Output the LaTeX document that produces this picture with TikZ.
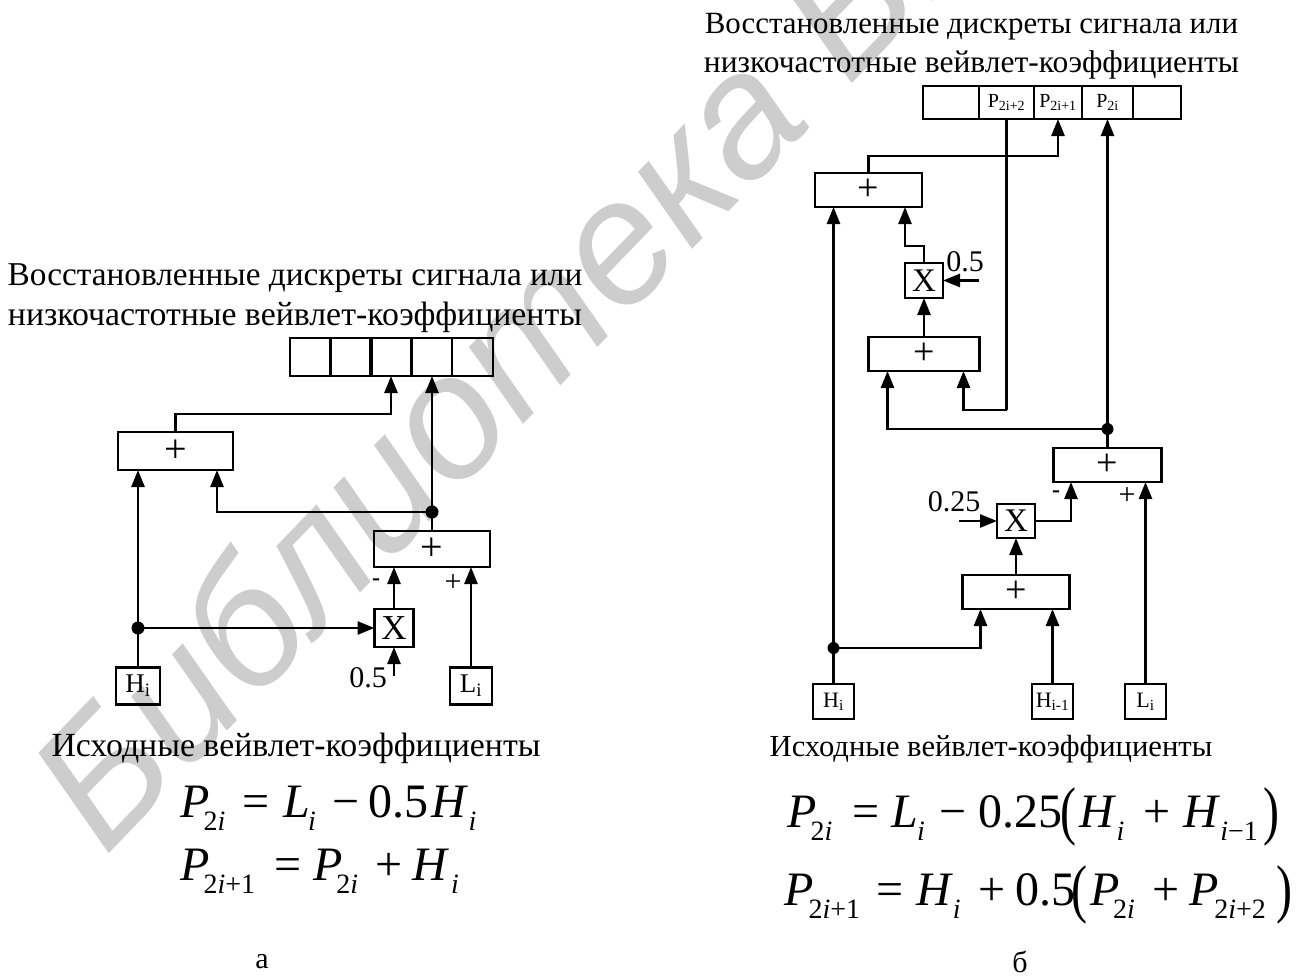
\documentclass[tikz,border=0pt]{standalone}
\usepackage{fontspec}
\setmainfont{Liberation Serif}
\newfontfamily\wmfont{Liberation Sans}
\usepackage{tikz}
\usetikzlibrary{calc,arrows.meta}
\usepackage{xcolor}
\definecolor{wmgray}{HTML}{CDCDCD}
\newcommand{\fsz}[1]{\fontsize{#1}{#1}\selectfont}
\newcommand{\esub}[2][0pt]{\kern#1\raisebox{-13pt}{\fsz{28}#2}}
\newcommand{\ii}{\textit{i}}
\newcommand{\bigparl}{\raisebox{-0.12em}{\scalebox{1}[1.35]{(}}}
\newcommand{\bigparr}{\raisebox{-0.12em}{\scalebox{1}[1.35]{)}}}
\tikzset{
  block/.style={draw,line width=2.6pt,inner sep=0pt,outer sep=0pt},
  wire/.style={line width=2.6pt},
  arrow/.style={wire,-{Triangle[length=17pt,width=13pt]}},
  junct/.style={circle,fill,inner sep=0pt,minimum size=13pt},
  formula/.style={font=\fsz{48},inner sep=0pt,anchor=base west},
  plusbox/.style={block,font=\fsz{40}},
  mulbox/.style={block,font=\fsz{35},minimum width=39pt,minimum height=38pt},
  inbox/.style={block,minimum height=37pt},
  cell/.style={block,font=\fsz{20},minimum height=33pt},
}
\begin{document}
\begin{tikzpicture}[x=1pt,y=-1pt]
  \useasboundingbox (0,0) rectangle (1302,978);
  \begin{scope}
    \clip (0,0) rectangle (1302,978);
    \node[rotate=46,anchor=base west,text=wmgray,font=\wmfont\itshape\fsz{175},inner sep=0pt] (wmark) at (105,858) {Библиотека БГУИР};
  \end{scope}

  % схема а
  \node[font=\fsz{33.3},inner sep=0pt] (titlela) at (295,278) {Восстановленные дискреты сигнала или};
  \node[font=\fsz{33.8},inner sep=0pt] (titlelb) at (295,317) {низкочастотные вейвлет-коэффициенты};
  \foreach \i/\x in {1/310.5,2/351,3/391,4/431.5,5/472.5}{
    \node[block,minimum width=41pt,minimum height=38pt] (regl\i) at (\x,357) {};
  }
  \node[plusbox,minimum width=115pt,minimum height=38pt] (addla) at (175.5,451) {+};
  \node[plusbox,minimum width=116pt,minimum height=36pt] (addlb) at (432,549) {+};
  \node[mulbox] (mull) at (394,628) {X};
  \node[inbox,font=\fsz{27},minimum width=44pt] (hl) at (138,686) {H\textsubscript{i}};
  \node[inbox,font=\fsz{27},minimum width=42pt] (ll) at (471,686) {L\textsubscript{i}};
  \node[junct] (dotla) at (432,512) {};
  \node[junct] (dotlb) at (138,628) {};
  \coordinate (cfl) at (394,676);
  \node[font=\fsz{30},inner sep=0pt] (cfltext) at (368,678) {0.5};
  \node[font=\bfseries\fsz{24},inner sep=0pt] (minl) at (376,582) {-};
  \node[font=\fsz{30},inner sep=0pt] (plul) at (453,583) {+};
  \draw[arrow] (addla.north) -- ++(0,-18) -| (regl3.south);
  \draw[arrow] (dotla.center) -- (dotla |- regl4.south);
  \draw[wire] (addlb.north) -- (dotla.center);
  \draw[arrow] (dotla.center) -| ([xshift=41.5pt]addla.south);
  \draw[wire] (hl.north) -- (dotlb.center);
  \draw[arrow] (dotlb.center) -- (dotlb |- addla.south);
  \draw[arrow] (dotlb.center) -- (mull.west);
  \draw[arrow] (mull.north) -- (mull.north |- addlb.south);
  \draw[arrow] (ll.north) -- (ll.north |- addlb.south);
  \draw[arrow] (cfl) -- (mull.south);
  \node[font=\fsz{33.8},inner sep=0pt] (capl) at (296,748) {Исходные вейвлет-коэффициенты};
  \node[formula] (eqla) at (180,817) {\textit{P}\esub[-6pt]{2\ii}\kern17pt=\kern14pt\textit{L}\esub[-2pt]{\ii}\kern17pt−\kern9pt0.5\kern3pt\textit{H}\esub{\ii}};
  \node[formula] (eqlb) at (180,880) {\textit{P}\esub[-6pt]{2\ii+1}\kern19pt=\kern12pt\textit{P}\esub[-6pt]{2\ii}\kern17pt+\kern10pt\textit{H}\esub[2pt]{\ii}};
  \node[font=\fsz{30},inner sep=0pt] (labla) at (262,962) {а};

  % схема б
  \node[font=\fsz{30.9},inner sep=0pt] (titlera) at (971.5,27) {Восстановленные дискреты сигнала или};
  \node[font=\fsz{31.5},inner sep=0pt] (titlerb) at (971.5,65) {низкочастотные вейвлет-коэффициенты};
  \foreach \n/\x/\w/\t in {a/951/56/{},b/1006.5/55/{P\textsubscript{2i+2}},c/1058/48/{P\textsubscript{2i+1}},d/1107.5/51/{P\textsubscript{2i}},e/1157/48/{}}{
    \node[cell,minimum width=\w pt] (reg\n) at (\x,102.5) {\t};
  }
  \node[plusbox,font=\fsz{38},minimum width=107pt,minimum height=34pt] (addra) at (868.5,190) {+};
  \node[mulbox,font=\fsz{33},minimum height=35pt,minimum width=38pt] (mulra) at (924,280.5) {X};
  \node[plusbox,font=\fsz{38},minimum width=111pt,minimum height=34pt] (addrb) at (924,354) {+};
  \node[plusbox,font=\fsz{38},minimum width=108pt,minimum height=34pt] (addrc) at (1107.5,465) {+};
  \node[mulbox,font=\fsz{33},minimum height=34pt,minimum width=38pt] (mulrb) at (1016,521) {X};
  \node[plusbox,font=\fsz{38},minimum width=107pt,minimum height=34pt] (addrd) at (1016,592) {+};
  \node[inbox,font=\fsz{22},minimum width=41pt,minimum height=35pt] (hr) at (833.5,701.5) {H\textsubscript{i}};
  \node[inbox,font=\fsz{22},minimum width=41pt,minimum height=35pt] (hrp) at (1052.5,701.5) {H\textsubscript{i-1}};
  \node[inbox,font=\fsz{22},minimum width=41pt,minimum height=35pt] (lr) at (1145.5,701.5) {L\textsubscript{i}};
  \node[junct,minimum size=12pt] (dotra) at (1107.5,429) {};
  \node[junct,minimum size=12pt] (dotrb) at (833.5,648) {};
  \coordinate (cfra) at (979,280.5);
  \coordinate (cfrb) at (959,521);
  \coordinate (bendr) at (1006.5,410);
  \node[font=\fsz{30},inner sep=0pt] (cfratext) at (965,262) {0.5};
  \node[font=\fsz{30},inner sep=0pt] (cfrbtext) at (954,502) {0.25};
  \node[font=\bfseries\fsz{24},inner sep=0pt] (minr) at (1056,494) {-};
  \node[font=\fsz{30},inner sep=0pt] (plur) at (1127,496) {+};
  \draw[arrow] (addra.north) -- ++(0,-17) -| (regc.south);
  \draw[wire] (regb.south) -- (bendr);
  \draw[arrow] (bendr) -| ([xshift=39.5pt]addrb.south);
  \draw[arrow] (dotra.center) -- (dotra |- regd.south);
  \draw[arrow] (dotra.center) -| ([xshift=-36.5pt]addrb.south);
  \draw[wire] (addrc.north) -- (dotra.center);
  \draw[arrow] (mulra.north) -- ++(0,-17) -| ([xshift=36.5pt]addra.south);
  \draw[arrow] (addrb.north) -- (mulra.south);
  \draw[arrow] (cfra) -- (mulra.east);
  \draw[arrow] (cfrb) -- (mulrb.west);
  \draw[arrow] (mulrb.east) -| ([xshift=-36.5pt]addrc.south);
  \draw[arrow] (lr.north) -- (lr.north |- addrc.south);
  \draw[arrow] (addrd.north) -- (mulrb.south);
  \draw[wire] (hr.north) -- (dotrb.center);
  \draw[arrow] (dotrb.center) -- (dotrb |- addra.south);
  \draw[arrow] (dotrb.center) -| ([xshift=-35.5pt]addrd.south);
  \draw[arrow] (hrp.north) -- (hrp.north |- addrd.south);
  \node[font=\fsz{30.6},inner sep=0pt] (capr) at (991,749) {Исходные вейвлет-коэффициенты};
  \node[formula] (eqra) at (787,827) {\textit{P}\esub[-6pt]{2\ii}\kern20pt=\kern12pt\textit{L}\esub[-1pt]{\ii}\kern15pt−\kern12pt0.25\kern-2pt\bigparl\kern3pt\textit{H}\esub{\ii}\kern19pt+\kern13pt\textit{H}\esub{\ii−1}\kern6pt\bigparr};
  \node[formula] (eqrb) at (784,905) {\textit{P}\esub[-5pt]{2\ii+1}\kern16pt=\kern13pt\textit{H}\esub{\ii}\kern18pt+\kern10pt0.5\kern-4pt\bigparl\kern3pt\textit{P}\esub[-7pt]{2\ii}\kern18pt+\kern10pt\textit{P}\esub[-5pt]{2\ii+2}\kern11pt\bigparr};
  \node[font=\fsz{30},inner sep=0pt] (labra) at (1020,962) {б};
\end{tikzpicture}
\end{document}
